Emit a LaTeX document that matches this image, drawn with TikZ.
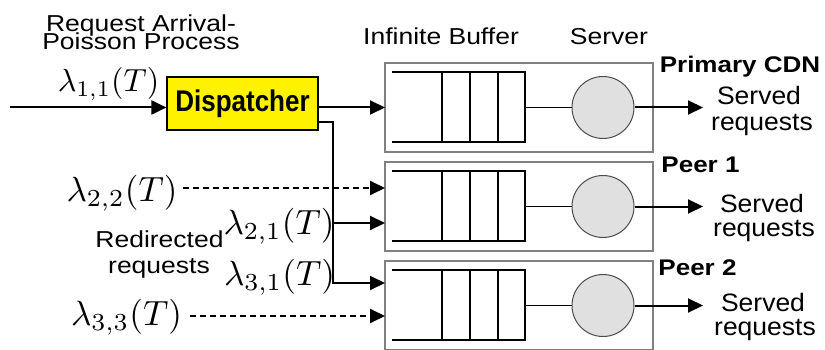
\documentclass[tikz,border=0pt]{standalone}
\usepackage{fontspec}
\setmainfont{Liberation Sans}
\usepackage{graphicx}
\usetikzlibrary{arrows.meta}
% vertical squeeze / stretch of a label
\newcommand\vsq[2]{\scalebox{1}[#1]{#2}}
% enlarged formula (scaled from 10pt)
\newcommand\rate[2]{\scalebox{#1}{$#2$}}
\tikzset{
  conn/.style={line width=2pt, -{Triangle[length=15pt,width=14pt]}},
  dashconn/.style={conn, dash pattern=on 6pt off 4pt},
  stationbox/.style={draw=black!50, line width=1.5pt, minimum width=268pt, minimum height=89pt, inner sep=0pt},
  queueline/.style={line width=2pt},
  server/.style={circle, draw=black!70, fill=black!12, line width=1pt, minimum size=62pt, inner sep=0pt},
  lbl/.style={inner sep=0pt, anchor=base, font=\fontsize{26.5}{30}\selectfont},
  blbl/.style={inner sep=0pt, anchor=base, font=\fontsize{26}{30}\selectfont\bfseries},
  mlbl/.style={inner sep=0pt, anchor=base, font=\normalsize},
  dispbox/.style={draw=black, fill=yellow, line width=1.2pt, minimum width=151pt, minimum height=53pt, inner sep=0pt, font=\fontsize{26}{30}\selectfont\bfseries},
}
\begin{document}
\begin{tikzpicture}[x=1pt, y=-1pt]
\useasboundingbox (0,0) rectangle (825,350);

% stations: box, queue, server, output
\foreach \n/\T in {1/63,2/162,3/261} {
  \node[stationbox] (box\n) at (519,{\T+44.5}) {};
  \draw[queueline] (392,{\T+9}) -- (525,{\T+9}) -- (525,{\T+79}) -- (392,{\T+79});
  \foreach \xx in {442,470,498}
    \draw[queueline] (\xx,{\T+9}) -- (\xx,{\T+79});
  \node[server] (srv\n) at (603,{\T+44.5}) {};
  \draw[line width=1.5pt] (525,{\T+44.5}) -- (srv\n.west);
  \coordinate (out\n) at (703,{\T+44.5});
  \draw[conn] (srv\n.east) -- (out\n);
}

% dispatcher
\node[dispbox] (disp) at (242.5,103.5) {\vsq{1.15}{Dispatcher}};
\coordinate (src) at (10,107.5);
\draw[conn] (src) -- (disp.west |- src);

% entry points of the stations
\coordinate (in1) at (385,107.5);
\coordinate (in22) at (385,188);
\coordinate (in21) at (385,223);
\coordinate (in31) at (385,283);
\coordinate (in33) at (385,316);
\coordinate (bend) at (333,122);

\draw[conn] (disp.east |- in1) -- (in1);
\draw[conn] (disp.east |- bend) -- (bend) -- (bend |- in31) -- (in31);
\draw[conn] (bend |- in21) -- (in21);

% rates
\node[mlbl] (l11) at (108.5,92) {\rate{3.2}{\lambda_{1,1}(T)}};
\node[mlbl] (l22) at (122,201) {\rate{3.5}{\lambda_{2,2}(T)}};
\node[mlbl] (l21) at (279,234) {\rate{3.5}{\lambda_{2,1}(T)}};
\node[mlbl] (l31) at (279.5,285.6) {\rate{3.5}{\lambda_{3,1}(T)}};
\node[mlbl] (l33) at (126.5,325) {\rate{3.5}{\lambda_{3,3}(T)}};

\draw[dashconn] ([xshift=5pt]l22.east |- in22) -- (in22);
\draw[dashconn] ([xshift=8pt]l33.east |- in33) -- (in33);

% labels
\node[lbl] (treq) at (141,32) {\vsq{0.87}{Request Arrival-}};
\node[lbl] (tpoi) at (141,50) {\vsq{0.87}{Poisson Process}};
\node[lbl] (tbuf) at (441,45) {\vsq{0.87}{Infinite Buffer}};
\node[lbl] (tsrv) at (609,45) {\vsq{0.87}{Server}};
\node[blbl] (tcdn) at (740,73) {\vsq{0.87}{Primary CDN}};
\node[blbl] (tpeer1) at (700.5,173) {\vsq{0.87}{Peer 1}};
\node[blbl] (tpeer2) at (697.5,275) {\vsq{0.87}{Peer 2}};

\node[lbl] (sv1a) at (759,105) {\vsq{0.95}{Served}};
\node[lbl] (sv1b) at (762,131) {\vsq{0.95}{requests}};
\node[lbl] (sv2a) at (762,212) {\vsq{0.95}{Served}};
\node[lbl] (sv2b) at (764,236) {\vsq{0.95}{requests}};
\node[lbl] (sv3a) at (763,311) {\vsq{0.95}{Served}};
\node[lbl] (sv3b) at (765,335) {\vsq{0.95}{requests}};

\node[lbl] (tred) at (159.5,247) {\vsq{0.87}{Redirected}};
\node[lbl] (treqs) at (159,273) {\vsq{0.87}{requests}};
\end{tikzpicture}
\end{document}
